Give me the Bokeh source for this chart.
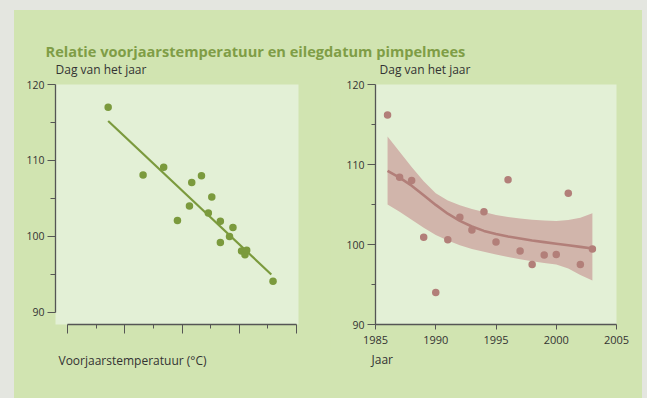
from bokeh.plotting import figure
from bokeh.layouts import column, row
from bokeh.models import Range1d, FixedTicker, Label
from bokeh.embed import file_html
from bokeh.resources import INLINE

# ---------------- data ----------------
title_text = "Relatie voorjaarstemperatuur en eilegdatum pimpelmees"
ylabel_text = "Dag van het jaar"
xlabel_left = "Voorjaarstemperatuur (°C)"
xlabel_right = "Jaar"

# left panel: spring temperature vs laying date
temp = [6.71, 7.32, 7.68, 7.92, 8.13, 8.17, 8.34, 8.46, 8.52, 8.67, 8.67, 8.83, 8.89, 9.04, 9.10, 9.13, 9.59]
legdag = [117.0, 108.1, 109.1, 102.1, 104.0, 107.1, 108.0, 103.1, 105.2, 102.0, 99.2, 100.0, 101.2, 98.1, 97.6, 98.2, 94.1]
trend_temp = [6.71, 9.56]
trend_dag = [115.2, 95.0]
temp_ticks = [6, 7, 8, 9, 10]
temp_minor = [6.5, 7.5, 8.5, 9.5]

# right panel: laying date per year
jaar = [1986, 1987, 1988, 1989, 1990, 1991, 1992, 1993, 1994, 1995, 1996, 1997, 1998, 1999, 2000, 2001, 2002, 2003]
dag = [116.2, 108.4, 108.0, 100.9, 94.0, 100.6, 103.4, 101.8, 104.1, 100.3, 108.1, 99.2, 97.5, 98.7, 98.75, 106.4, 97.5, 99.45]
smooth_jaar = [1986, 1987, 1988, 1989, 1990, 1991, 1992, 1993, 1994, 1995, 1996, 1997, 1998, 1999, 2000, 2001, 2002, 2003]
smooth_dag = [109.2, 108.35, 107.35, 106.15, 104.95, 103.85, 102.95, 102.25, 101.7, 101.3, 101.0, 100.75, 100.5, 100.3, 100.1, 99.9, 99.7, 99.5]
band_upper = [113.5, 111.6, 109.7, 107.9, 106.4, 105.5, 104.9, 104.45, 104.05, 103.7, 103.45, 103.25, 103.1, 103.0, 102.95, 103.05, 103.35, 103.9]
band_lower = [105.0, 104.1, 103.1, 102.1, 101.2, 100.5, 99.9, 99.45, 99.1, 98.75, 98.45, 98.15, 97.9, 97.7, 97.5, 97.0, 96.2, 95.5]
year_ticks = [1985, 1990, 1995, 2000, 2005]
day_ticks = [90, 100, 110, 120]
day_minor = [95, 105, 115]

# ---------------- styles ----------------
PANEL = "#d1e4b1"
FRAME = "#e3f0d6"
GRAY = "#e4e6e0"
OLIVE = "#7b9a3d"
TITLE_C = "#7f9d46"
ROSE = "#b27f79"
BAND = "#d1b5ab"
TXT = "#333333"
AX = "#555555"
FONT = "Open Sans"


def strip(h):
    s = figure(width=628, height=h, x_range=Range1d(0, 628), y_range=Range1d(0, h),
               output_backend="svg", toolbar_location=None, min_border=0)
    s.axis.visible = False
    s.grid.visible = False
    s.outline_line_color = None
    s.background_fill_color = PANEL
    s.border_fill_color = PANEL
    return s


def text_label(x, y, text, size="12px", bold=False, color=TXT):
    return Label(x=x, y=y, text=text, text_font=FONT, text_font_size=size,
                 text_font_style="bold" if bold else "normal", text_color=color,
                 text_baseline="alphabetic")


def base_fig(w, h, xr, yr, bl, br, bt, bb):
    p = figure(width=w, height=h, x_range=xr, y_range=yr, output_backend="svg",
               toolbar_location=None, min_border_left=bl, min_border_right=br,
               min_border_top=bt, min_border_bottom=bb)
    p.background_fill_color = FRAME
    p.border_fill_color = PANEL
    p.outline_line_color = None
    p.grid.visible = False
    for ax in (p.xaxis[0], p.yaxis[0]):
        ax.axis_line_color = AX
        ax.axis_line_width = 1.3
        ax.major_tick_line_color = AX
        ax.minor_tick_line_color = AX
        ax.major_tick_in = 0
        ax.minor_tick_in = 0
        ax.major_label_text_font = FONT
        ax.major_label_text_font_size = "11px"
        ax.major_label_text_color = TXT
    p.yaxis.major_label_text_font_size = "10.5px"
    return p


# ---------------- title strip (with y-axis titles) ----------------
top = strip(67)
top.add_layout(text_label(31, 26.75, title_text, size="14.6px", bold=True, color=TITLE_C))
top.add_layout(text_label(41, 8.5, ylabel_text))
top.add_layout(text_label(365, 8.5, ylabel_text))

# ---------------- left panel ----------------
left = base_fig(316, 273, Range1d(5.79, 10.035), Range1d(88.42, 120), 41, 32, 7, 25)
left.xaxis.ticker = FixedTicker(ticks=temp_ticks, minor_ticks=temp_minor)
left.xaxis.bounds = (temp_ticks[0], temp_ticks[-1])
left.xaxis.major_tick_out = 9
left.xaxis.minor_tick_out = 4
left.xaxis.major_label_standoff = 0
left.xaxis.major_label_overrides = {t: "" for t in temp_ticks}
left.yaxis.ticker = FixedTicker(ticks=day_ticks, minor_ticks=day_minor)
left.yaxis.bounds = (day_ticks[0], day_ticks[-1])
left.yaxis.major_tick_out = 8
left.yaxis.minor_tick_out = 5
left.yaxis.major_label_standoff = 3

left.line(trend_temp, trend_dag, line_color=OLIVE, line_width=2.2)
left.scatter(temp, legdag, size=7.5, fill_color=OLIVE, line_color=None)

# ---------------- right panel ----------------
right = base_fig(312, 273, Range1d(1985, 2005), Range1d(90, 120), 45, 26, 7, 26)
right.xaxis.ticker = FixedTicker(ticks=year_ticks, minor_ticks=[])
right.xaxis.major_tick_out = 5
right.xaxis.major_label_standoff = 6
right.yaxis.ticker = FixedTicker(ticks=day_ticks, minor_ticks=day_minor)
right.yaxis.major_tick_out = 8
right.yaxis.minor_tick_out = 4
right.yaxis.major_label_standoff = 3

right.varea(x=smooth_jaar, y1=band_lower, y2=band_upper, fill_color=BAND, fill_alpha=1.0)
right.line(smooth_jaar, smooth_dag, line_color=ROSE, line_width=2.6)
right.scatter(jaar, dag, size=7.5, fill_color=ROSE, line_color=None)

# ---------------- bottom strip (x-axis titles) ----------------
bottom = strip(48)
bottom.add_layout(text_label(44, 38.5, xlabel_left))
bottom.add_layout(text_label(357, 39, xlabel_right))

inner = column(top, row(left, right, styles={"background-color": PANEL}), bottom,
               styles={"background-color": PANEL})
outer = column(inner, styles={"background-color": GRAY, "padding": "10px 5px 0px 14px"})
open("out.html", "w").write(file_html(outer, INLINE))
